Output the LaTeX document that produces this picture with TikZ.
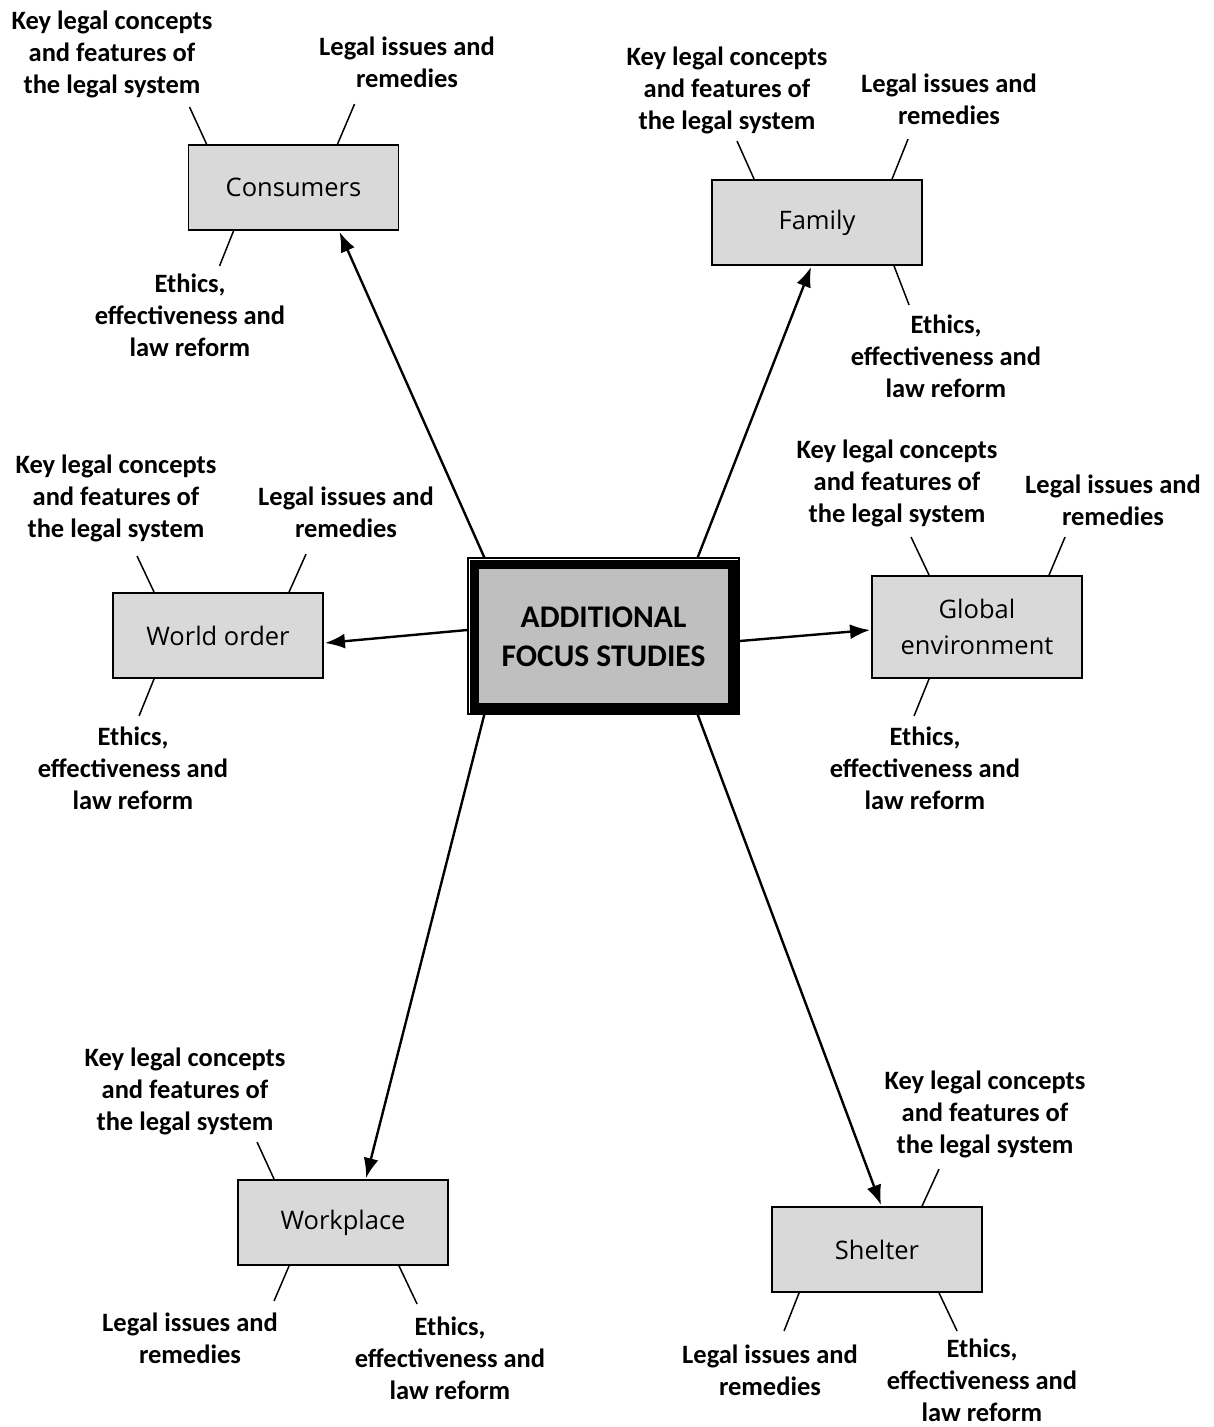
\documentclass[tikz,border=0pt]{standalone}
\usepackage{fontspec}
\setmainfont{Carlito}
\newfontfamily\boxfont{Open Sans}
\usetikzlibrary{calc,arrows.meta}
\definecolor{boxgray}{HTML}{D9D9D9}
\definecolor{hubgray}{HTML}{BFBFBF}
\begin{document}
\begin{tikzpicture}[x=1pt,y=-1pt,
  topic/.style={draw=black,line width=1.9pt,fill=boxgray,minimum width=210pt,minimum height=85pt,
    inner sep=0pt,align=center,font=\boxfont\fontsize{25.5}{36}\selectfont},
  lbl/.style={align=center,inner sep=0pt,font=\bfseries\fontsize{26.5}{32}\selectfont},
  tick/.style={line width=1.5pt},
  arr/.style={line width=2.4pt,-{Latex[length=20pt,width=15pt]}}]
\useasboundingbox (0,0) rectangle (1214,1427);

% central hub: thin outer frame, white gap, heavy inner frame
\node[draw=black,line width=1.5pt,fill=white,minimum width=271pt,minimum height=156pt,inner sep=0pt] (hub) at (603.5,636) {};
\draw[line width=9.5pt,fill=hubgray] ($(hub.north west)+(7,7)$) rectangle ($(hub.south east)+(-7,-7)$);
\node[align=center,font=\bfseries\fontsize{31.5}{39}\selectfont] (hubtext) at ($(hub)+(0,1)$) {ADDITIONAL\\FOCUS STUDIES};

% topic boxes
\node[topic] (cons) at (293.5,187.5) {Consumers};
\node[topic] (fam) at (817,222.5) {Family};
\node[topic] (world) at (218,635.5) {World order};
\node[topic,minimum height=102pt] (glob) at (977,627) {Global\\environment};
\node[topic] (work) at (343,1222.5) {Workplace};
\node[topic] (shel) at (877,1249.5) {Shelter};

% arrows from the hub
\draw[arr] ($(hub.north west)+(17,0)$) -- ($(cons.south west)+(152,1)$);
\draw[arr] ($(hub.north east)+(-42,0)$) -- ($(fam.south west)+(100,1)$);
\draw[arr] ($(hub.west)+(0,-6)$) -- ($(world.east)+(1,7.5)$);
\draw[arr] ($(hub.east)+(0,5)$) -- ($(glob.west)+(-1,3)$);
\draw[arr] ($(hub.south west)+(17,0)$) -- ($(work.north west)+(129,-1)$);
\draw[arr] ($(hub.south east)+(-42,0)$) -- ($(shel.north west)+(110,-1)$);

% Consumers
\draw[tick] ($(cons.north west)+(19,0)$) -- ++(-17,-37);
\draw[tick] ($(cons.north west)+(150,0)$) -- ++(17,-40);
\draw[tick] ($(cons.south west)+(46,0)$) -- ++(-14,35);
\node[lbl] (cons-k) at (112,54) {Key legal concepts\\and features of\\the legal system};
\node[lbl] (cons-l) at (407,62) {Legal issues and\\remedies};
\node[lbl] (cons-e) at (190,315) {Ethics,\\effectiveness and\\law reform};

% Family
\draw[tick] ($(fam.north west)+(43,0)$) -- ++(-17,-38);
\draw[tick] ($(fam.north west)+(181,0)$) -- ++(16,-40);
\draw[tick] ($(fam.south west)+(183,0)$) -- ++(15,39);
\node[lbl] (fam-k) at (727,90) {Key legal concepts\\and features of\\the legal system};
\node[lbl] (fam-l) at (949,99) {Legal issues and\\remedies};
\node[lbl] (fam-e) at (946,356) {Ethics,\\effectiveness and\\law reform};

% World order
\draw[tick] ($(world.north west)+(42,0)$) -- ++(-17,-36);
\draw[tick] ($(world.north west)+(177,0)$) -- ++(17,-38);
\draw[tick] ($(world.south west)+(42,0)$) -- ++(-15,37);
\node[lbl] (world-k) at (116,498) {Key legal concepts\\and features of\\the legal system};
\node[lbl] (world-l) at (346,512) {Legal issues and\\remedies};
\node[lbl] (world-e) at (133,768) {Ethics,\\effectiveness and\\law reform};

% Global environment
\draw[tick] ($(glob.north west)+(58,0)$) -- ++(-18,-38);
\draw[tick] ($(glob.north west)+(178,0)$) -- ++(16,-38);
\draw[tick] ($(glob.south west)+(58,0)$) -- ++(-15,37);
\node[lbl] (glob-k) at (897,483) {Key legal concepts\\and features of\\the legal system};
\node[lbl] (glob-l) at (1113,500) {Legal issues and\\remedies};
\node[lbl] (glob-e) at (925,768) {Ethics,\\effectiveness and\\law reform};

% Workplace
\draw[tick] ($(work.north west)+(37,0)$) -- ++(-17,-37);
\draw[tick] ($(work.south west)+(52,0)$) -- ++(-15,35);
\draw[tick] ($(work.south west)+(162,0)$) -- ++(18,38);
\node[lbl] (work-k) at (185,1091) {Key legal concepts\\and features of\\the legal system};
\node[lbl] (work-l) at (190,1338) {Legal issues and\\remedies};
\node[lbl] (work-e) at (450,1358) {Ethics,\\effectiveness and\\law reform};

% Shelter
\draw[tick] ($(shel.north west)+(151,0)$) -- ++(17,-37);
\draw[tick] ($(shel.south west)+(28,0)$) -- ++(-15,38);
\draw[tick] ($(shel.south west)+(168,0)$) -- ++(18,38);
\node[lbl] (shel-k) at (985,1114) {Key legal concepts\\and features of\\the legal system};
\node[lbl] (shel-l) at (770,1370) {Legal issues and\\remedies};
\node[lbl] (shel-e) at (982,1380) {Ethics,\\effectiveness and\\law reform};
\end{tikzpicture}
\end{document}
